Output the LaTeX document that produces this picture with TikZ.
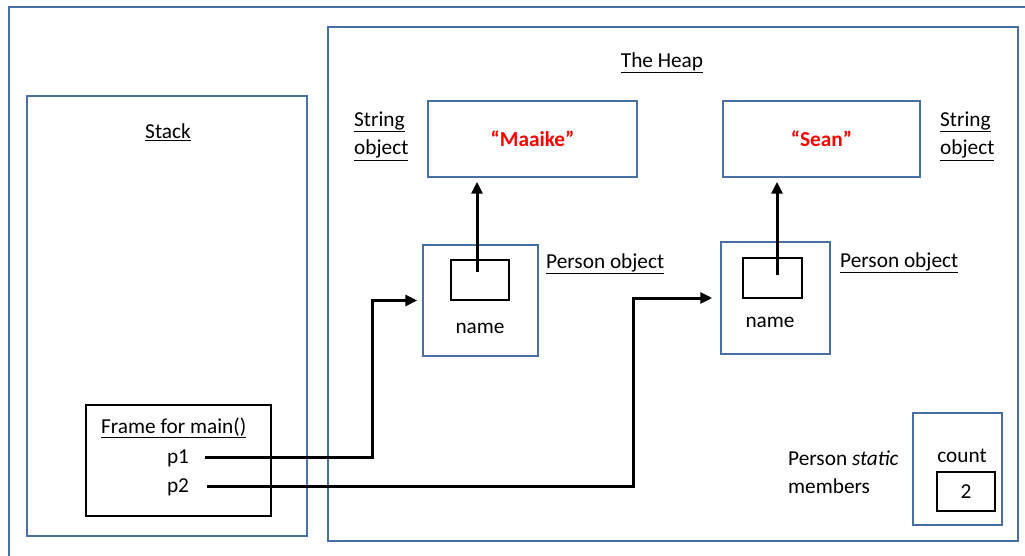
\documentclass[tikz,border=0pt]{standalone}
\usepackage{fontspec}
\setmainfont{Carlito}
\usetikzlibrary{arrows.meta}
\definecolor{frameblue}{RGB}{72,112,160}
\definecolor{strred}{RGB}{255,0,0}
\tikzset{
    area/.style={draw=frameblue, line width=1.5pt, rectangle, inner sep=0pt},
    cell/.style={draw=black, line width=2pt, rectangle, inner sep=0pt},
    ref/.style={line width=3pt, -{Triangle[length=12pt,width=11pt]}},
    lbl/.style={inner sep=0pt, align=left}
}
\begin{document}
\begin{tikzpicture}[x=1pt, y=-1pt, font=\fontsize{21.3}{28.5}\selectfont]
            \useasboundingbox (0,0) rectangle (1025,556);
            \draw [draw=frameblue, line width=1.5pt] (9,560) -- (9,7) -- (1030,7);

            \node[area, minimum width=280pt, minimum height=440pt] (stack) at (167,316) {};
            \node[area, minimum width=690pt, minimum height=514pt] (heap)  at (673,284) {};

            \node[lbl] (stacklbl) at (168,132) {\underline{Stack}};
            \node[lbl] (heaplbl)  at (662,63)  {\underline{The Heap}};

            \node[area, minimum width=209pt, minimum height=76pt] (str1) at (532.5,139)
                {\textbf{\color{strred}“Maaike”}};
            \node[area, minimum width=197pt, minimum height=76pt] (str2) at (821.5,139)
                {\textbf{\color{strred}“Sean”}};
            \node[lbl, anchor=west] (strlbl1) at (354,136) {\underline{String}\\\underline{object}};
            \node[lbl, anchor=west] (strlbl2) at (940,136) {\underline{String}\\\underline{object}};

            \node[area, minimum width=115pt, minimum height=111pt] (person1) at (480.5,300.5) {};
            \node[area, minimum width=109pt, minimum height=112pt] (person2) at (775.5,298) {};
            \node[cell, minimum width=58pt, minimum height=40pt] (slot1) at (480,280) {};
            \node[cell, minimum width=59pt, minimum height=40pt] (slot2) at (772.5,278) {};
            \node[lbl] (name1) at (480,328) {name};
            \node[lbl] (name2) at (770,322) {name};
            \node[lbl, anchor=west] (perslbl1) at (546,264) {\underline{Person object}};
            \node[lbl, anchor=west] (perslbl2) at (840,263) {\underline{Person object}};

            \node[cell, minimum width=185pt, minimum height=111pt] (frame) at (178.5,460.5) {};
            \node[lbl, anchor=west] (framelbl) at (101,428) {\underline{Frame for main()}};
            \node[lbl] (p1) at (178,458) {p1};
            \node[lbl] (p2) at (178,487) {p2};

            \node[lbl, anchor=west] (statlbl) at (788,472) {Person \textit{static}\\members};
            \node[area, minimum width=89pt, minimum height=112pt] (statics) at (957.5,469) {};
            \node[lbl] (countlbl) at (962,456) {count};
            \node[cell, minimum width=58pt, minimum height=39pt] (count) at (966,491.5) {2};

            \coordinate (p1s) at (205,457);
            \coordinate (p2s) at (207,486);
            \coordinate (bend1) at (372,457);
            \coordinate (bend2) at (633,486);

            \draw [ref] ([xshift=-3pt,yshift=8pt]slot1.center) -- ([xshift=-3pt,yshift=-4pt]slot1.center |- str1.south);
            \draw [ref] ([xshift=4.5pt,yshift=3pt]slot2.center) -- ([xshift=4.5pt,yshift=-4pt]slot2.center |- str2.south);
            \draw [ref] (p1s) -- (bend1) |- ([xshift=-5pt]person1.west);
            \draw [ref] (p2s) -- (bend2) |- ([xshift=-8pt]person2.west);
        \end{tikzpicture}
\end{document}
